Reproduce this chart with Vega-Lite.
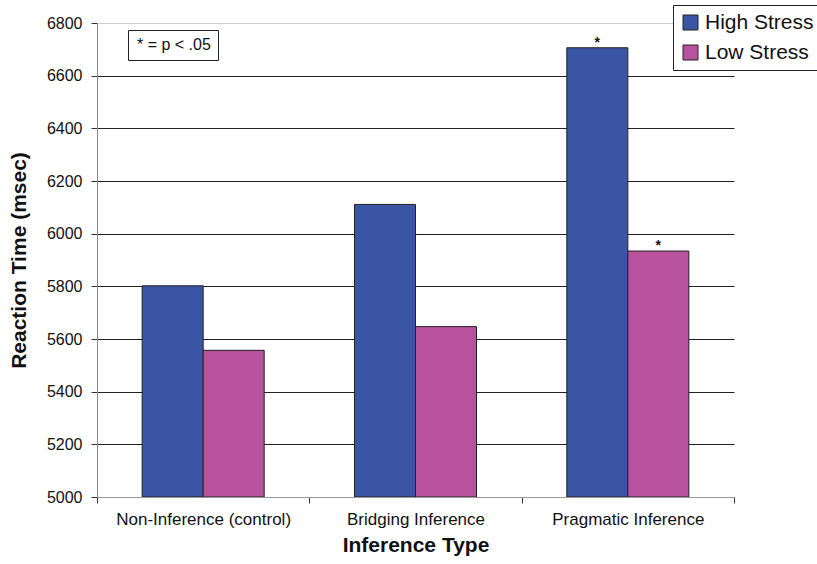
{
  "$schema": "https://vega.github.io/schema/vega-lite/v6.json",
  "width": 637,
  "height": 474,
  "autosize": {"type": "none"},
  "padding": {"left": 97, "top": 23, "right": 83, "bottom": 67},
  "background": "white",
  "config": {"view": {"stroke": null}, "font": "Liberation Sans"},
  "data": {
    "values": [
      {"type": "Non-Inference (control)", "stress": "High Stress", "rt": 5802, "sig": ""},
      {"type": "Non-Inference (control)", "stress": "Low Stress", "rt": 5557, "sig": ""},
      {"type": "Bridging Inference", "stress": "High Stress", "rt": 6111, "sig": ""},
      {"type": "Bridging Inference", "stress": "Low Stress", "rt": 5647, "sig": ""},
      {"type": "Pragmatic Inference", "stress": "High Stress", "rt": 6706, "sig": "*"},
      {"type": "Pragmatic Inference", "stress": "Low Stress", "rt": 5934, "sig": "*"}
    ]
  },
  "encoding": {
    "x": {
      "field": "type",
      "type": "nominal",
      "sort": ["Non-Inference (control)", "Bridging Inference", "Pragmatic Inference"],
      "scale": {"paddingInner": 0, "paddingOuter": 0},
      "title": "Inference Type",
      "axis": {
        "labelAngle": 0,
        "tickBand": "extent",
        "ticks": true,
        "tickSize": 6,
        "tickColor": "#333",
        "domainColor": "#999",
        "labelFontSize": 17,
        "labelColor": "#111",
        "labelPadding": 8,
        "titleFontSize": 21,
        "titleFontWeight": "bold",
        "titleColor": "#111",
        "titlePadding": 7,
        "grid": false
      }
    },
    "xOffset": {
      "field": "stress",
      "sort": ["High Stress", "Low Stress"],
      "scale": {"paddingInner": 0, "paddingOuter": 0.74}
    },
    "y": {
      "field": "rt",
      "type": "quantitative",
      "scale": {"domain": [5000, 6800], "zero": false, "nice": false},
      "title": "Reaction Time (msec)",
      "axis": {
        "values": [5000, 5200, 5400, 5600, 5800, 6000, 6200, 6400, 6600, 6800],
        "format": "d",
        "tickSize": 6,
        "tickColor": "#333",
        "domainColor": "#888",
        "labelFontSize": 16,
        "labelColor": "#111",
        "labelPadding": 9,
        "titleFontSize": 21,
        "titleFontWeight": "bold",
        "titleColor": "#111",
        "titlePadding": 17,
        "grid": true,
        "gridColor": {"condition": {"test": "datum.value == 6800 || datum.value == 5000", "value": "#cccccc"}, "value": "#222222"},
        "gridWidth": 1
      }
    }
  },
  "layer": [
    {
      "mark": {"type": "bar", "stroke": "#222", "strokeWidth": 1, "clip": true},
      "encoding": {
        "y2": {"datum": 5000},
        "color": {
          "field": "stress",
          "type": "nominal",
          "scale": {"domain": ["High Stress", "Low Stress"], "range": ["#3A55A4", "#B8529E"]},
          "legend": {
            "title": null,
            "orient": "none",
            "legendX": 576,
            "legendY": -18,
            "padding": 7,
            "strokeColor": "#222",
            "fillColor": "white",
            "symbolType": "square",
            "symbolSize": 225,
            "symbolStrokeColor": "#222",
            "symbolStrokeWidth": 1,
            "symbolOpacity": 1,
            "labelFontSize": 21,
            "labelColor": "#111",
            "labelOffset": 4,
            "rowPadding": 8
          }
        }
      }
    },
    {
      "transform": [{"filter": "datum.sig != ''"}],
      "mark": {"type": "text", "fontSize": 14, "fontWeight": "bold", "baseline": "alphabetic", "dy": -1, "color": "#111"},
      "encoding": {"text": {"field": "sig"}}
    },
    {
      "data": {"values": [{"note": "* = p < .05"}]},
      "mark": {"type": "point", "opacity": 0},
      "encoding": {
        "x": null,
        "xOffset": null,
        "y": null,
        "shape": {
          "field": "note",
          "type": "nominal",
          "legend": {
            "title": null,
            "orient": "none",
            "legendX": 31,
            "legendY": 7,
            "padding": 7,
            "strokeColor": "#222",
            "fillColor": "white",
            "symbolSize": 0,
            "symbolOpacity": 0,
            "labelOffset": -14,
            "labelFontSize": 16,
            "labelColor": "#111"
          }
        }
      }
    }
  ]
}
